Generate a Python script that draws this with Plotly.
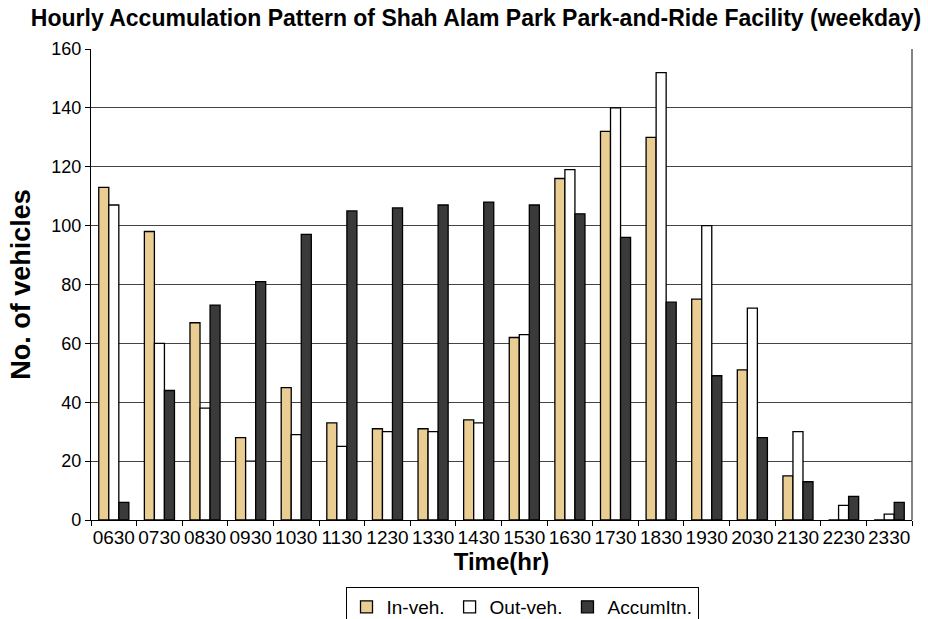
import plotly.graph_objects as go

# Half-hour time slots (hhmm) for the weekday survey
times = ["0630", "0730", "0830", "0930", "1030", "1130", "1230", "1330", "1430",
         "1530", "1630", "1730", "1830", "1930", "2030", "2130", "2230", "2330"]

# Vehicles entering, leaving, and accumulated in the facility per slot
in_veh = [113, 98, 67, 28, 45, 33, 31, 31, 34, 62, 116, 132, 130, 75, 51, 15, 0, 0]
out_veh = [107, 60, 38, 20, 29, 25, 30, 30, 33, 63, 119, 140, 152, 100, 72, 30, 5, 2]
accum = [6, 44, 73, 81, 97, 105, 106, 107, 108, 107, 104, 96, 74, 49, 28, 13, 8, 6]

FONT = "Liberation Sans, Arial, sans-serif"
outline = dict(color="black", width=1.3)

fig = go.Figure()
fig.add_trace(go.Bar(x=times, y=in_veh, name="In-veh.",
                     marker=dict(color="#EACD93", line=outline)))
fig.add_trace(go.Bar(x=times, y=out_veh, name="Out-veh.",
                     marker=dict(color="white", line=outline)))
fig.add_trace(go.Bar(x=times, y=accum, name="AccumItn.",
                     marker=dict(color="#3a3a3a", line=outline)))

fig.update_layout(
    width=928, height=619,
    margin=dict(l=91, r=16, t=49, b=99, autoexpand=False),
    paper_bgcolor="white", plot_bgcolor="white",
    barmode="group", bargap=0.34, bargroupgap=0,
    font=dict(family=FONT, color="black", size=16),
    title=dict(
        text="<b>Hourly Accumulation Pattern of Shah Alam Park Park-and-Ride Facility (weekday)</b>",
        x=0.513, xanchor="center", xref="container",
        y=1 - 18 / 619, yanchor="middle", yref="container",
        font=dict(family=FONT, size=23, color="black"),
    ),
    xaxis=dict(
        type="category", tickangle=0, automargin=False,
        tickfont=dict(family=FONT, size=19),
        ticks="outside", tickson="boundaries", ticklen=5, tickcolor="black",
        showline=True, linecolor="black", linewidth=1.3,
        showgrid=False,
        title=dict(text="<b>Time(hr)</b>", font=dict(family=FONT, size=24), standoff=4),
    ),
    yaxis=dict(
        range=[0, 160], dtick=20, tickfont=dict(family=FONT, size=18),
        automargin=False,
        ticks="outside", ticklen=5, tickcolor="black",
        showline=True, linecolor="black", linewidth=1.3,
        showgrid=True, gridcolor="#444444", gridwidth=1.3,
        zeroline=False,
        title=dict(text="<b>No. of vehicles</b>", font=dict(family=FONT, size=27), standoff=12),
    ),
    legend=dict(
        orientation="h", x=522 / 928, xanchor="center", xref="container",
        y=(619 - 587) / 619, yanchor="top", yref="container",
        bordercolor="black", borderwidth=1, bgcolor="white",
        font=dict(family=FONT, size=19), itemwidth=30,
        tracegroupgap=0, traceorder="normal",
    ),
)

# Right-hand frame line of the plot area
fig.add_shape(type="line", xref="paper", yref="paper", x0=1, x1=1, y0=0, y1=1,
              line=dict(color="#444444", width=1.3))

fig.write_html("out.html")
